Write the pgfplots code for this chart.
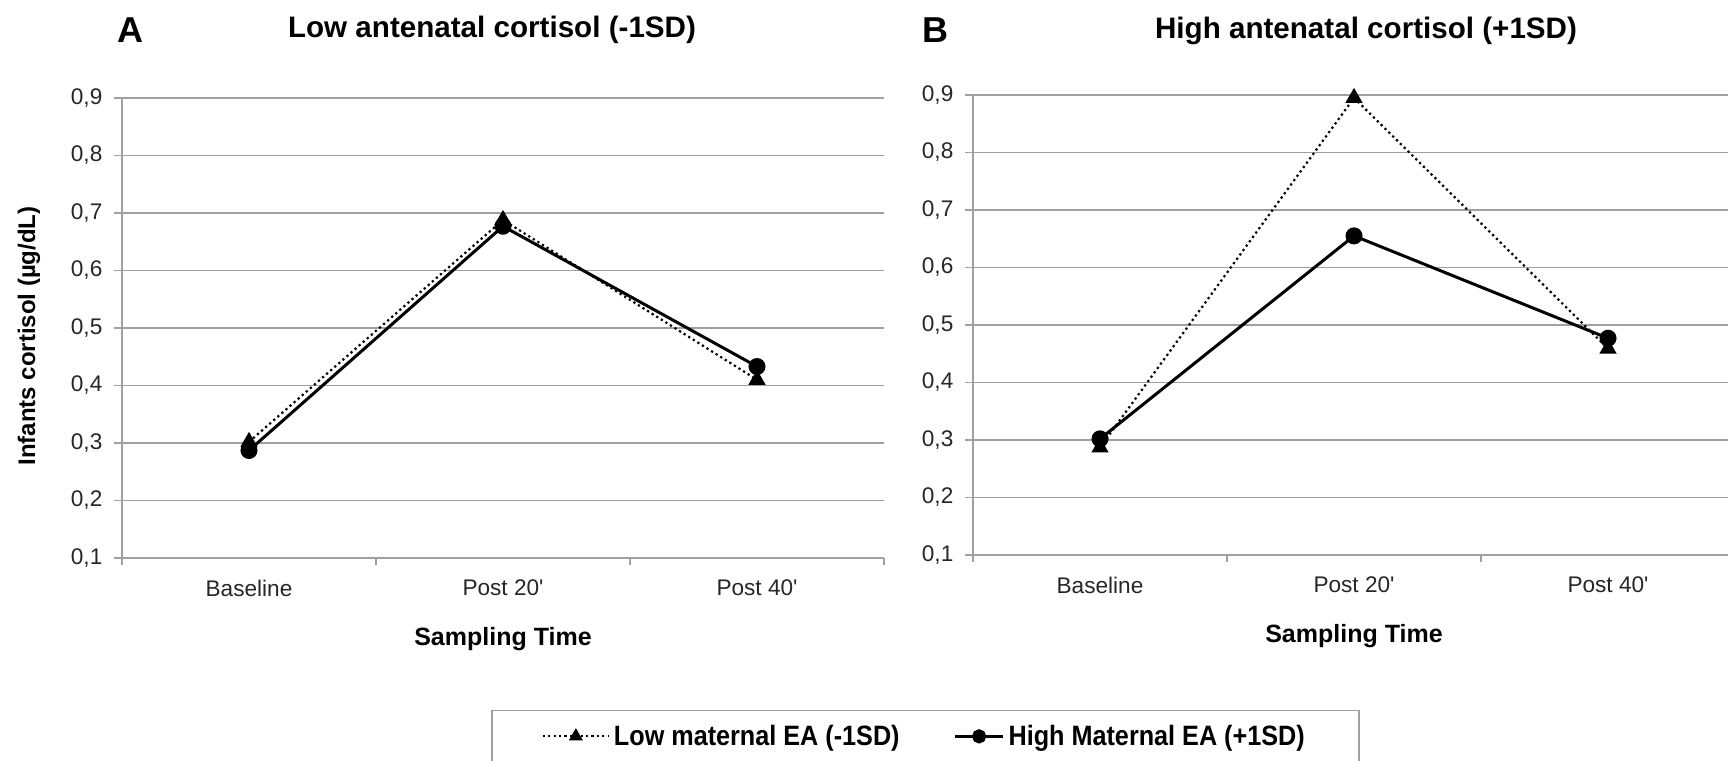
\documentclass[border=0pt]{standalone}
\usepackage{pgfplots}
\pgfplotsset{compat=1.18}
\usepackage{fontspec}
\setmainfont{Liberation Sans}
\newfontfamily\legfont{Liberation Sans}[FakeStretch=0.9]
\definecolor{gridgray}{HTML}{A0A0A0}
\begin{document}
\begin{tikzpicture}
\useasboundingbox (0,0) rectangle (864pt,380pt);
\pgfplotsset{
  panel/.style={
    scale only axis, height=230pt,
    xmin=-0.5, ymin=0.1, ymax=0.9,
    axis x line*=bottom, axis y line*=left,
    axis line style={gridgray, line width=0.75pt, -},
    ymajorgrids, grid style={gridgray, line width=0.75pt},
    ytick={0.1,0.2,0.3,0.4,0.5,0.6,0.7,0.8,0.9},
    yticklabel style={xshift=-2.3pt, /pgf/number format/.cd, fixed, fixed zerofill, precision=1, use comma},
    /pgf/number format/assume math mode=true,
    xtick={0,1,2}, xticklabels={Baseline,Post 20\textquotesingle,Post 40\textquotesingle},
    minor xtick={-0.5,0.5,1.5,2.5},
    tick align=outside, major tick length=4pt, minor tick length=3.5pt,
    tick style={gridgray, line width=0.75pt},
    major x tick style={draw=none},
    ticklabel style={font=\fontsize{11.3}{13}\selectfont, text=black!85},
    xticklabel style={yshift=-3.3pt},
    xlabel={Sampling Time},
    xlabel style={anchor=center, yshift=-40.5pt, font=\bfseries\fontsize{12.5}{14}\selectfont},
    clip=false,
  },
  lowEA/.style={black, line width=1.1pt, dash pattern=on 1.1pt off 1.6pt, mark=triangle*, mark size=3.9pt, mark options={solid},
    legend image code/.code={\draw[mark repeat=2,mark phase=2, mark size=3pt] plot coordinates {(0pt,0pt)(16.5pt,0pt)(33pt,0pt)};}},
  highEA/.style={black, line width=1.5pt, solid, mark=*, mark size=3.5pt,
    legend image code/.code={\draw[mark repeat=2,mark phase=2, mark size=2.8pt] plot coordinates {(0pt,0pt)(12pt,0pt)(24pt,0pt)};}},
}
% Panel A
\begin{axis}[panel, at={(61pt,101pt)}, anchor=south west, width=381pt, xmax=2.5,
  xlabel style={at={(axis description cs:0.5,0)}},
  legend columns=2,
  legend style={at={(0.4843,-0.3304)}, anchor=north west, draw=gridgray, line width=0.75pt,
    inner xsep=25pt, inner ysep=5pt,
    font=\legfont\bfseries\fontsize{14}{16}\selectfont,
    /tikz/every even column/.append style={column sep=25pt}},
]
\addplot[lowEA] coordinates {(0,0.302) (1,0.688) (2,0.410)};
\addlegendentry{Low maternal EA (-1SD)}
\addplot[highEA] coordinates {(0,0.287) (1,0.677) (2,0.433)};
\addlegendentry{High Maternal EA (+1SD)}
\end{axis}
% Panel B
\begin{axis}[panel, at={(486.5pt,102.5pt)}, anchor=south west, width=377.5pt, xmax=2.4724,
  xlabel style={at={(axis description cs:0.5046,0)}},
]
\addplot[lowEA] coordinates {(0,0.287) (1,0.895) (2,0.459)};
\addplot[highEA] coordinates {(0,0.302) (1,0.655) (2,0.477)};
\end{axis}
% Panel letters and titles
\node[font=\bfseries\fontsize{18}{20}\selectfont] at (65pt,365pt) {A};
\node[font=\bfseries\fontsize{18}{20}\selectfont] at (467.5pt,365pt) {B};
\node[font=\bfseries\fontsize{14.8}{17}\selectfont] at (246pt,365pt) {Low antenatal cortisol (-1SD)};
\node[font=\bfseries\fontsize{14.8}{17}\selectfont] at (683pt,364.5pt) {High antenatal cortisol (+1SD)};
\node[font=\bfseries\fontsize{12}{14}\selectfont, rotate=90] at (14.5pt,212pt) {Infants cortisol (µg/dL)};
\end{tikzpicture}
\end{document}
